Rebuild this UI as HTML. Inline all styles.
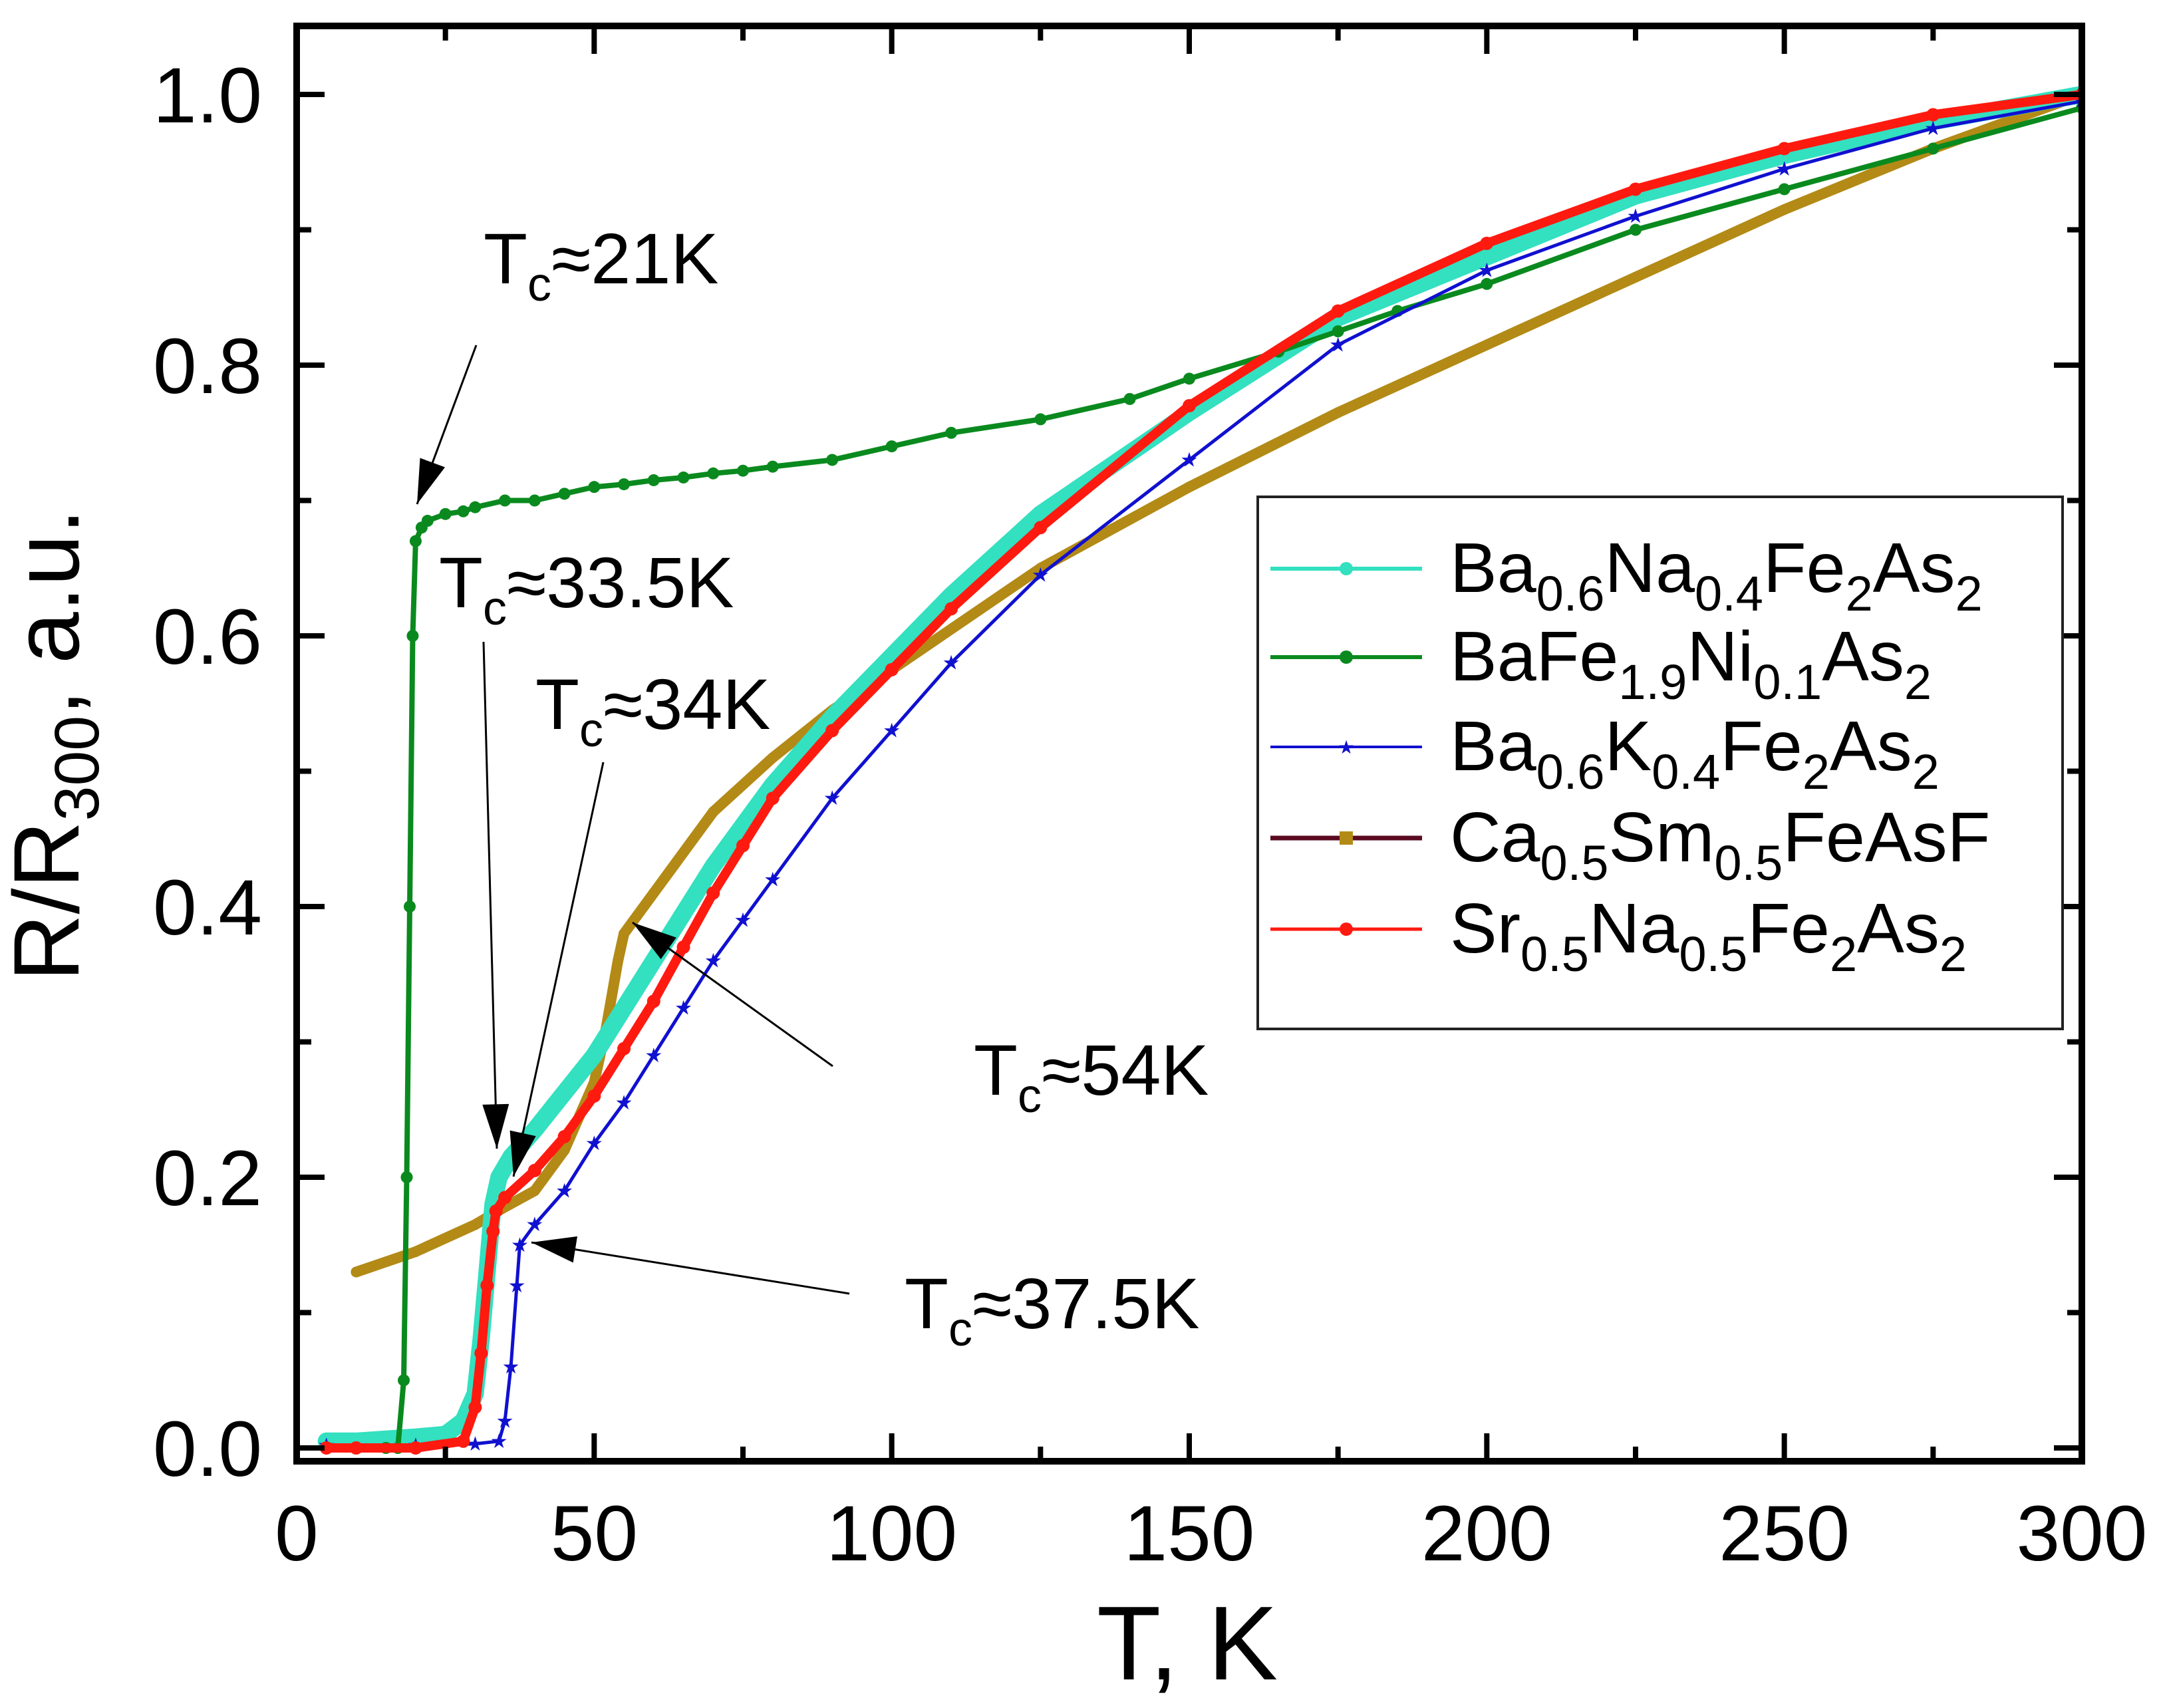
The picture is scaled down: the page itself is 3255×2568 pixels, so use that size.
<!DOCTYPE html>
<html><head><meta charset="utf-8"><style>
html,body{margin:0;padding:0;background:#fff;}
svg{display:block;font-family:"Liberation Sans",Arial,sans-serif;}
</style></head><body>
<svg id="chart" width="3255" height="2568" viewBox="0 0 3255 2568" xmlns="http://www.w3.org/2000/svg">
<defs>
<marker id="ahb" viewBox="0 0 10 6" refX="10" refY="3" markerWidth="90" markerHeight="40" markerUnits="userSpaceOnUse" orient="auto"><path d="M0,0 L10,3 L0,6 z" fill="#000"/></marker>
</defs>
<g id="plot"></g>
</svg>
<script>
const tempsGreen = [5,10,15,17,18,18.5,19,19.5,20,21,22,25,28,30,35,40,45,50,55,60,65,70,75,80,90,100,110,125,140,150,165,175,185,200,225,250,275,300];
const valsGreen  = [0,0,0,0,0.05,0.2,0.4,0.6,0.67,0.68,0.685,0.69,0.692,0.695,0.70,0.70,0.705,0.71,0.712,0.715,0.717,0.72,0.722,0.725,0.73,0.74,0.75,0.76,0.775,0.79,0.81,0.825,0.84,0.86,0.90,0.93,0.96,0.99];
const tempsCyan = [5,10,20,25,28,30,31,32,33,34,36,40,50,60,70,80,90,100,110,125,150,175,200,225,250,275,300];
const valsCyan  = [0.005,0.005,0.008,0.01,0.02,0.04,0.08,0.13,0.18,0.20,0.215,0.235,0.29,0.36,0.43,0.49,0.54,0.585,0.63,0.69,0.765,0.835,0.88,0.925,0.955,0.98,1.0];
const tempsBlue = [5,20,30,34,35,36,37,37.5,40,45,50,55,60,65,70,75,80,90,100,110,125,150,175,200,225,250,275,300];
const valsBlue  = [0.002,0.002,0.003,0.005,0.02,0.06,0.12,0.15,0.165,0.19,0.225,0.255,0.29,0.325,0.36,0.39,0.42,0.48,0.53,0.58,0.645,0.73,0.815,0.87,0.91,0.945,0.975,0.995];
const tempsBrown = [10,20,30,35,40,45,50,52,54,55,60,70,80,90,100,125,150,175,200,225,250,275,300];
const valsBrown  = [0.13,0.145,0.165,0.178,0.19,0.22,0.27,0.31,0.36,0.38,0.41,0.47,0.51,0.545,0.575,0.65,0.71,0.765,0.815,0.865,0.915,0.96,1.0];
const tempsRed = [5,10,20,28,30,31,32,33,33.5,35,40,45,50,55,60,65,70,75,80,90,100,110,125,150,175,200,225,250,275,300];
const valsRed  = [0.0,0.0,0.0,0.005,0.03,0.07,0.12,0.16,0.175,0.185,0.205,0.23,0.26,0.295,0.33,0.37,0.41,0.445,0.48,0.53,0.575,0.62,0.68,0.77,0.84,0.89,0.93,0.96,0.985,1.0];
const xTicks = [0,50,100,150,200,250,300];
const yTicks = [0.0,0.2,0.4,0.6,0.8,1.0];
const yTickLabels = ["0.0","0.2","0.4","0.6","0.8","1.0"];

const NS="http://www.w3.org/2000/svg";
const L=446,R=3130,T=39,B=2197;
function xs(t){return L+(t-0)/300*(R-L);}
function ys(v){return 2177-v*2035;}
const g=document.getElementById('plot');
function mk(tag,attrs,parent){const e=document.createElementNS(NS,tag);for(const k in attrs)e.setAttribute(k,attrs[k]);(parent||g).appendChild(e);return e;}

const cp=mk('clipPath',{id:'clip'});mk('rect',{x:L,y:T,width:R-L,height:B-T},cp);
const dataG=mk('g',{'clip-path':'url(#clip)'});



function series(ts,vs,color,lw,mr,name,star){
  const s=mk('g',{},dataG);
  
  
  const pts=ts.map((t,i)=>xs(t).toFixed(1)+','+ys(vs[i]).toFixed(1)).join(' ');
  mk('polyline',{points:pts,fill:'none',stroke:color,'stroke-width':lw,'stroke-linejoin':'round','stroke-linecap':'round'},s);
  ts.forEach((t,i)=>{
    let m;
    if(star){m=mk('text',{x:xs(t),y:ys(vs[i])+10,'font-size':30,'text-anchor':'middle',fill:color},s);m.textContent='★';}
    else m=mk('circle',{cx:xs(t),cy:ys(vs[i]),r:mr,fill:color},s);
    
    
  });
}
series(tempsBrown,valsBrown,'#b38a16',16,8,'series-ca-sm-feasf',false);
series(tempsCyan,valsCyan,'#33e0c0',26,12,'series-ba-na-fe2as2',false);
series(tempsGreen,valsGreen,'#0a8a1e',8,9,'series-bafe-ni-as2',false);
series(tempsBlue,valsBlue,'#1010d0',5,6,'series-ba-k-fe2as2',true);
series(tempsRed,valsRed,'#ff1a10',14,10,'series-sr-na-fe2as2',false);

const fr=mk('rect',{x:L,y:T,width:R-L,height:B-T,fill:'none',stroke:'#000','stroke-width':10});



for(let t=0;t<=300;t+=25){
  const major=t%50===0, len=major?42:22;
  mk('line',{x1:xs(t),y1:B,x2:xs(t),y2:B-len,stroke:'#000','stroke-width':8});
  mk('line',{x1:xs(t),y1:T,x2:xs(t),y2:T+len,stroke:'#000','stroke-width':8});
}
for(let k=0;k<=10;k++){
  const v=k/10, major=k%2===0, len=major?42:22;
  mk('line',{x1:L,y1:ys(v),x2:L+len,y2:ys(v),stroke:'#000','stroke-width':8});
  mk('line',{x1:R,y1:ys(v),x2:R-len,y2:ys(v),stroke:'#000','stroke-width':8});
}
xTicks.forEach(t=>{
  const e=mk('text',{x:xs(t),y:2346,'font-size':118,'text-anchor':'middle',fill:'#000'});
  e.textContent=String(t);
  
  
});
yTicks.forEach((v,i)=>{
  const e=mk('text',{x:394,y:ys(v)+42,'font-size':118,'text-anchor':'end',fill:'#000'});
  e.textContent=yTickLabels[i];
  
  
});

const svg=document.getElementById('chart');
svg.insertAdjacentHTML('beforeend',`
<text x="1785" y="2525" font-size="158" text-anchor="middle">T, K</text>
<text transform="translate(118,1120) rotate(-90)" font-size="140" text-anchor="middle">R/R<tspan font-size="95" dy="30">300</tspan><tspan dy="-30">, a.u.</tspan></text>
<g font-size="106">
<rect x="1891" y="747" width="1210" height="800" fill="#fff" stroke="#222" stroke-width="4"/>
<line x1="1910" y1="855" x2="2138" y2="855" stroke="#33e0c0" stroke-width="6"/><circle cx="2024" cy="855" r="10" fill="#33e0c0"/>
<text x="2180" y="890">Ba<tspan font-size="74" dy="28">0.6</tspan><tspan dy="-28">Na</tspan><tspan font-size="74" dy="28">0.4</tspan><tspan dy="-28">Fe</tspan><tspan font-size="74" dy="28">2</tspan><tspan dy="-28">As</tspan><tspan font-size="74" dy="28">2</tspan></text>
<line x1="1910" y1="988" x2="2138" y2="988" stroke="#0a8a1e" stroke-width="6"/><circle cx="2024" cy="988" r="10" fill="#0a8a1e"/>
<text x="2180" y="1023">BaFe<tspan font-size="74" dy="28">1.9</tspan><tspan dy="-28">Ni</tspan><tspan font-size="74" dy="28">0.1</tspan><tspan dy="-28">As</tspan><tspan font-size="74" dy="28">2</tspan></text>
<line x1="1910" y1="1123" x2="2138" y2="1123" stroke="#1010d0" stroke-width="4"/><text x="2024" y="1133" font-size="28" text-anchor="middle" fill="#1010d0">★</text>
<text x="2180" y="1158">Ba<tspan font-size="74" dy="28">0.6</tspan><tspan dy="-28">K</tspan><tspan font-size="74" dy="28">0.4</tspan><tspan dy="-28">Fe</tspan><tspan font-size="74" dy="28">2</tspan><tspan dy="-28">As</tspan><tspan font-size="74" dy="28">2</tspan></text>
<line x1="1910" y1="1260" x2="2138" y2="1260" stroke="#5a0a20" stroke-width="7"/><rect x="2014" y="1250" width="20" height="20" fill="#b38a16"/>
<text x="2180" y="1295">Ca<tspan font-size="74" dy="28">0.5</tspan><tspan dy="-28">Sm</tspan><tspan font-size="74" dy="28">0.5</tspan><tspan dy="-28">FeAsF</tspan></text>
<line x1="1910" y1="1397" x2="2138" y2="1397" stroke="#ff1a10" stroke-width="5"/><circle cx="2024" cy="1397" r="10" fill="#ff1a10"/>
<text x="2180" y="1432">Sr<tspan font-size="74" dy="28">0.5</tspan><tspan dy="-28">Na</tspan><tspan font-size="74" dy="28">0.5</tspan><tspan dy="-28">Fe</tspan><tspan font-size="74" dy="28">2</tspan><tspan dy="-28">As</tspan><tspan font-size="74" dy="28">2</tspan></text>
</g>
<g font-size="108">
<text x="727" y="426">T<tspan font-size="72" dy="26">c</tspan><tspan dy="-26">≈21K</tspan></text>
<line x1="716" y1="519" x2="627" y2="758" stroke="#000" stroke-width="3" marker-end="url(#ahb)"/>
<text x="660" y="913">T<tspan font-size="72" dy="26">c</tspan><tspan dy="-26">≈33.5K</tspan></text>
<line x1="727" y1="965" x2="747" y2="1727" stroke="#000" stroke-width="3" marker-end="url(#ahb)"/>
<text x="805" y="1096">T<tspan font-size="72" dy="26">c</tspan><tspan dy="-26">≈34K</tspan></text>
<line x1="907" y1="1146" x2="772" y2="1769" stroke="#000" stroke-width="3" marker-end="url(#ahb)"/>
<text x="1464" y="1646">T<tspan font-size="72" dy="26">c</tspan><tspan dy="-26">≈54K</tspan></text>
<line x1="1252" y1="1603" x2="951" y2="1387" stroke="#000" stroke-width="3" marker-end="url(#ahb)"/>
<text x="1360" y="1997">T<tspan font-size="72" dy="26">c</tspan><tspan dy="-26">≈37.5K</tspan></text>
<line x1="1277" y1="1945" x2="799" y2="1868" stroke="#000" stroke-width="3" marker-end="url(#ahb)"/>
</g>`);
</script>
</body></html>
